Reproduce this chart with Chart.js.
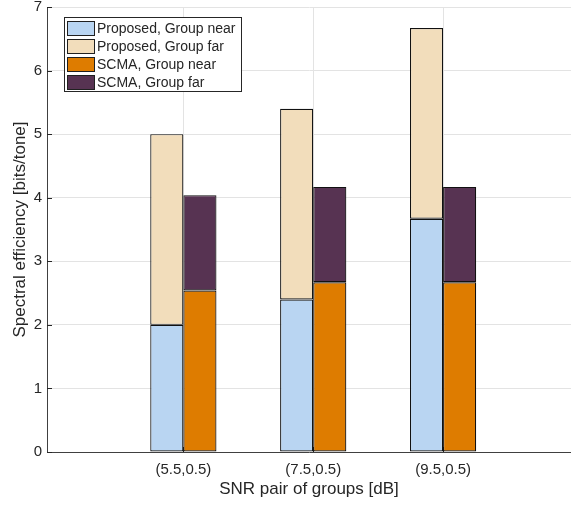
<!DOCTYPE html>
<html>
<head>
<meta charset="utf-8">
<script src="https://cdn.jsdelivr.net/npm/chart.js@4/dist/chart.umd.min.js"></script>
<style>
  html, body { margin: 0; padding: 0; background: #fff; }
  #wrap { width: 571px; height: 505px; }
</style>
</head>
<body>
<div id="wrap"><canvas id="myChart" width="571" height="505"></canvas></div>
<script>
var snrLabels = ["(5.5,0.5)", "(7.5,0.5)", "(9.5,0.5)"];
var proposedNear = [2.0, 2.4, 3.67];
var proposedFar = [3.0, 3.0, 3.0];
var scmaNear = [2.54, 2.67, 2.67];
var scmaFar = [1.5, 1.5, 1.5];
var yTicks = [0, 1, 2, 3, 4, 5, 6, 7];

var fontFamily = "'Liberation Sans', Arial, Helvetica, sans-serif";
var textColor = "#262626";
var gridColor = "#e3e3e3";

function toPoints(values) {
  return values.map(function (v, i) {
    return { x: i + 1, y: v };
  });
}

function makeSet(label, values, color, stack) {
  return {
    label: label,
    data: toPoints(values),
    backgroundColor: color,
    borderColor: "#111",
    borderWidth: 1.2,
    borderSkipped: false,
    stack: stack,
    barPercentage: 1,
    categoryPercentage: 0.51,
  };
}

// legend drawn inside the plot, like matlab's northwest legend
var boxLegend = {
  id: "boxLegend",
  afterDraw: function (chart) {
    var ctx = chart.ctx;
    var x = chart.chartArea.left + 17;
    var y = chart.chartArea.top + 10;
    var w = 177;
    var h = 74;
    ctx.save();
    ctx.fillStyle = "#fff";
    ctx.fillRect(x, y, w, h);
    ctx.strokeStyle = "#262626";
    ctx.lineWidth = 1;
    ctx.strokeRect(x + 0.5, y + 0.5, w, h);
    ctx.font = "14px " + fontFamily;
    ctx.textBaseline = "middle";
    chart.data.datasets.forEach(function (ds, i) {
      var cy = y + 11 + i * 18;
      ctx.fillStyle = ds.backgroundColor;
      ctx.fillRect(x + 3, cy - 7, 27, 14);
      ctx.strokeStyle = "#202020";
      ctx.strokeRect(x + 3.5, cy - 6.5, 27, 14);
      ctx.fillStyle = textColor;
      ctx.fillText(ds.label, x + 33, cy + 1);
    });
    ctx.restore();
  },
};

// inward tick marks
var inTicks = {
  id: "inTicks",
  beforeDatasetsDraw: function (chart) {
    var ctx = chart.ctx;
    var area = chart.chartArea;
    var ys = chart.scales.y;
    var xs = chart.scales.x;
    ctx.save();
    ctx.strokeStyle = "#262626";
    ctx.lineWidth = 1;
    ctx.beginPath();
    yTicks.forEach(function (t) {
      var py = Math.round(ys.getPixelForValue(t)) + 0.5;
      ctx.moveTo(area.left, py);
      ctx.lineTo(area.left + 5, py);
    });
    snrLabels.forEach(function (l, i) {
      var px = Math.round(xs.getPixelForValue(i + 1)) + 0.5;
      ctx.moveTo(px, area.bottom);
      ctx.lineTo(px, area.bottom - 5);
    });
    ctx.stroke();
    ctx.restore();
  },
};

var ctx = document.getElementById("myChart").getContext("2d");
var myChart = new Chart(ctx, {
  type: "bar",
  data: {
    datasets: [
      makeSet("Proposed, Group near", proposedNear, "#b9d5f2", "proposed"),
      makeSet("Proposed, Group far", proposedFar, "#f2ddbb", "proposed"),
      makeSet("SCMA, Group near", scmaNear, "#de7c00", "scma"),
      makeSet("SCMA, Group far", scmaFar, "#573352", "scma"),
    ],
  },
  options: {
    responsive: false,
    animation: false,
    layout: { padding: { top: 7, right: 0, left: 0, bottom: 0 } },
    plugins: {
      legend: { display: false },
      tooltip: { enabled: false },
    },
    scales: {
      x: {
        type: "linear",
        stacked: true,
        offset: false,
        min: -0.05,
        max: 3.985,
        grid: { color: gridColor, offset: false, drawTicks: false },
        border: { color: "#404040", width: 1 },
        afterBuildTicks: function (axis) {
          axis.ticks = snrLabels.map(function (l, i) {
            return { value: i + 1 };
          });
        },
        afterFit: function (scale) {
          scale.height = 53;
          scale.paddingLeft = 0;
          scale.paddingRight = 0;
        },
        ticks: {
          font: { family: fontFamily, size: 15 },
          color: textColor,
          padding: 9,
          maxRotation: 0,
          callback: function (v) {
            return snrLabels[v - 1];
          },
        },
        title: {
          display: true,
          text: "SNR pair of groups [dB]",
          font: { family: fontFamily, size: 17 },
          color: textColor,
          padding: { top: 0, bottom: 5 },
        },
      },
      y: {
        stacked: true,
        min: 0,
        max: 7,
        grid: { color: gridColor, drawTicks: false },
        border: { color: "#404040", width: 1 },
        afterFit: function (scale) {
          scale.width = 47;
          scale.paddingTop = 0;
          scale.paddingBottom = 0;
        },
        ticks: {
          stepSize: 1,
          font: { family: fontFamily, size: 15 },
          color: textColor,
          padding: 5,
        },
        title: {
          display: true,
          text: "Spectral efficiency [bits/tone]",
          font: { family: fontFamily, size: 17 },
          color: textColor,
          padding: { top: 10, bottom: 0 },
        },
      },
    },
  },
  plugins: [inTicks, boxLegend],
});
</script>
</body>
</html>
